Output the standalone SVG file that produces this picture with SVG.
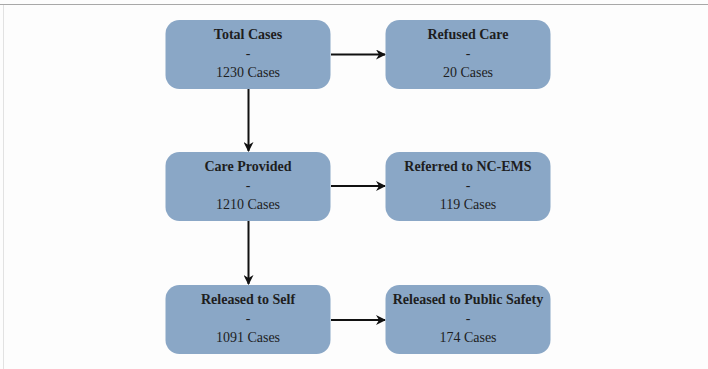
<svg xmlns="http://www.w3.org/2000/svg" width="708" height="369" viewBox="0 0 708 369">
  <defs>
    <style>
      .box { fill: #8aa7c6; }
      .t { font-family: "Liberation Serif", "Times New Roman", serif; font-size: 14px; fill: #1e1e1e; text-anchor: middle; }
      .b { font-weight: bold; }
      .edge { stroke: #111; stroke-width: 2; fill: none; marker-end: url(#arrow); }
    </style>
    <marker id="arrow" viewBox="0 0 10 10" refX="9" refY="5" markerWidth="5" markerHeight="5" orient="auto" markerUnits="strokeWidth">
      <path d="M0,0 L10,5 L0,10 L3,5 z" fill="#111"/>
    </marker>
  </defs>
  <rect x="0" y="0" width="708" height="369" fill="#fdfdfd"/>
  <line x1="0" y1="4.5" x2="708" y2="4.5" stroke="#a8a8a8" stroke-width="1"/>
  <line x1="3.5" y1="5" x2="3.5" y2="369" stroke="#e2e2e2" stroke-width="1"/>

  <g id="connectors">
    <path class="edge" d="M331,54.5 H385"/>
    <path class="edge" d="M248.5,89 V151"/>
    <path class="edge" d="M331,186 H385"/>
    <path class="edge" d="M248.5,221 V284"/>
    <path class="edge" d="M331,320 H385"/>
  </g>

  <g id="total-cases">
    <rect class="box" x="165.5" y="20" width="165" height="69" rx="14"/>
    <text class="t b" x="248" y="39">Total Cases</text>
    <text class="t" x="248" y="58">-</text>
    <text class="t" x="248" y="77">1230 Cases</text>
  </g>
  <g id="refused-care">
    <rect class="box" x="385.5" y="20" width="165" height="69" rx="14"/>
    <text class="t b" x="468" y="39">Refused Care</text>
    <text class="t" x="468" y="58">-</text>
    <text class="t" x="468" y="77">20 Cases</text>
  </g>
  <g id="care-provided">
    <rect class="box" x="165.5" y="152" width="165" height="69" rx="14"/>
    <text class="t b" x="248" y="171">Care Provided</text>
    <text class="t" x="248" y="190">-</text>
    <text class="t" x="248" y="209">1210 Cases</text>
  </g>
  <g id="referred-nc-ems">
    <rect class="box" x="385.5" y="152" width="165" height="69" rx="14"/>
    <text class="t b" x="468" y="171">Referred to NC-EMS</text>
    <text class="t" x="468" y="190">-</text>
    <text class="t" x="468" y="209">119 Cases</text>
  </g>
  <g id="released-self">
    <rect class="box" x="165.5" y="285" width="165" height="69" rx="14"/>
    <text class="t b" x="248" y="304">Released to Self</text>
    <text class="t" x="248" y="323">-</text>
    <text class="t" x="248" y="342">1091 Cases</text>
  </g>
  <g id="released-public-safety">
    <rect class="box" x="385.5" y="285" width="165" height="69" rx="14"/>
    <text class="t b" x="468" y="304">Released to Public Safety</text>
    <text class="t" x="468" y="323">-</text>
    <text class="t" x="468" y="342">174 Cases</text>
  </g>
</svg>
